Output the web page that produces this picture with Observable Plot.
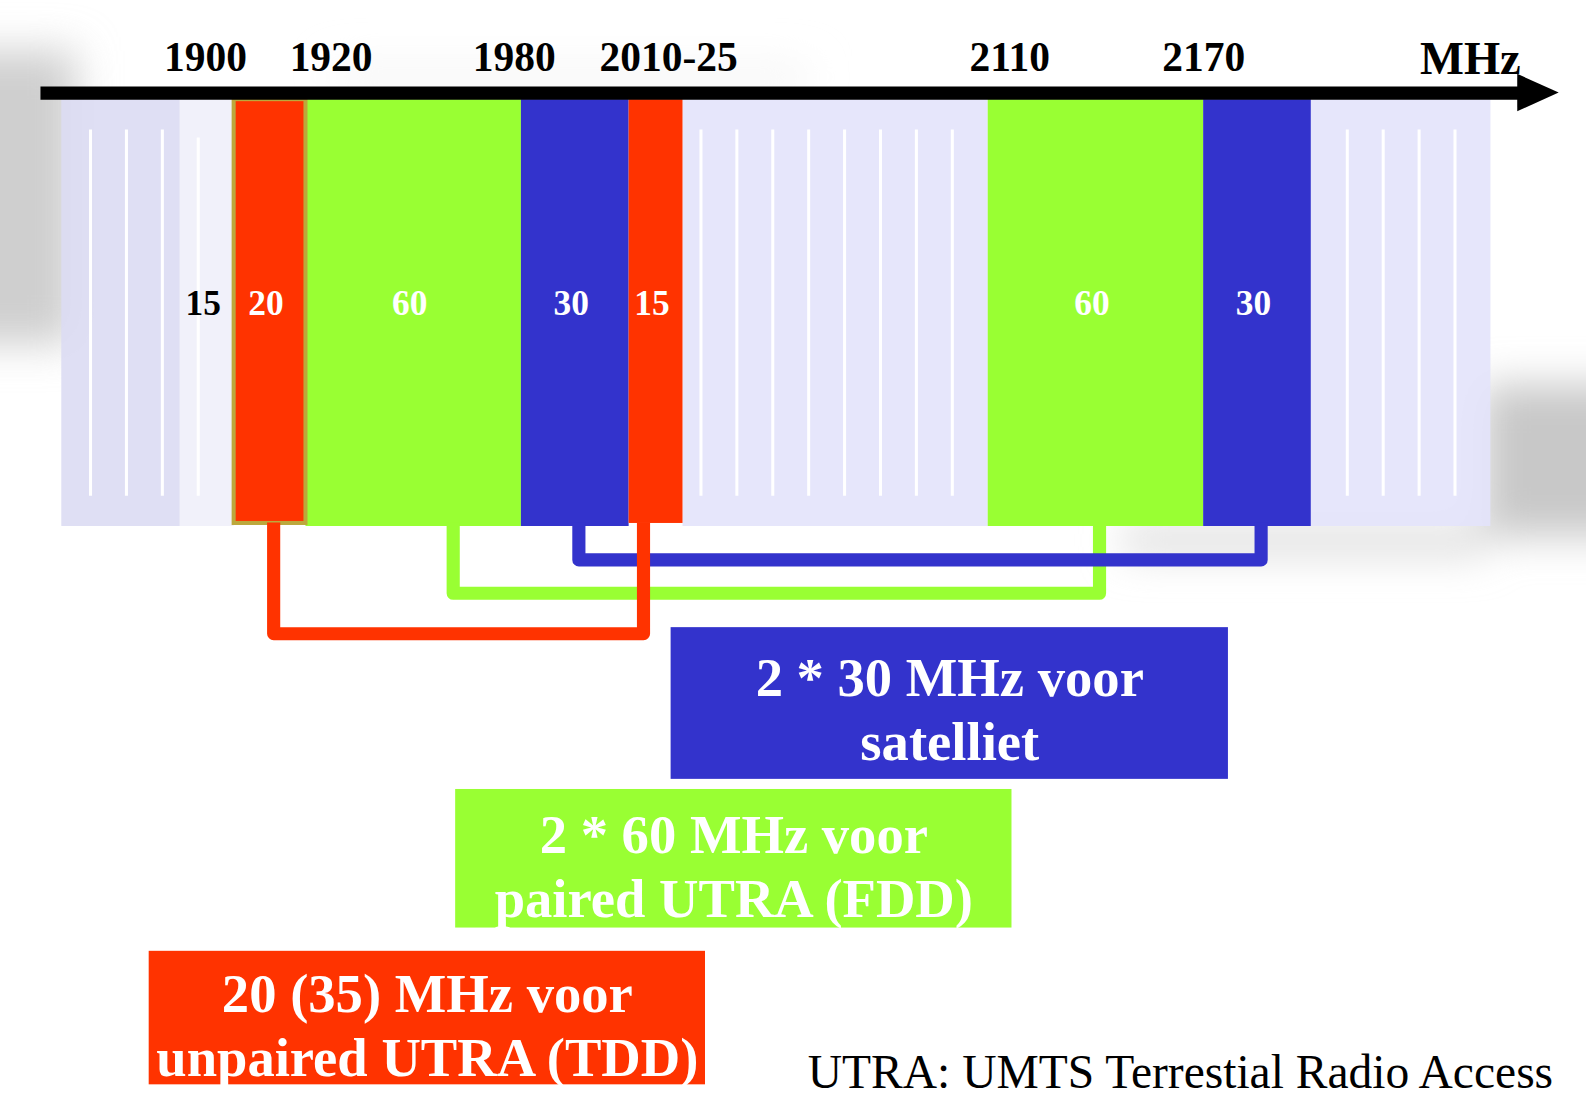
<!DOCTYPE html>
<html><head><meta charset="utf-8">
<script src="https://cdn.jsdelivr.net/npm/d3@7"></script>
<script src="https://cdn.jsdelivr.net/npm/@observablehq/plot@0.6"></script>
<style>html,body{margin:0;padding:0;background:#fff;overflow:hidden}#chart svg{display:block}</style>
</head><body><div id="chart"></div>
<script>
// ---- data (MHz) ----
const bandStart = [1852, 1885, 1900, 1920, 1980, 2010, 2025, 2110, 2170, 2200];
const bandEnd   = [1885, 1900, 1920, 1980, 2010, 2025, 2110, 2170, 2200, 2250];
const bandUse   = ["free","mss","tdd","fdd","sat","tdd","free","fdd","sat","free"];
const bandLabel = ["","15","20","60","30","15","","60","30",""];
const tickLabels = ["1900","1920","1980","2010-25","2110","2170"];
const tickMHz    = [1892, 1927, 1978, 2021, 2116, 2170];
const gridMHz = [1860,1870,1880,1890,2030,2040,2050,2060,2070,2080,2090,2100,2210,2220,2230,2240];
const pairUse  = ["fdd","sat","tdd"];
const pairLow  = [1961, 1996, 1911];
const pairHigh = [2141, 2186, 2014];
const legendUse  = ["sat","fdd","tdd"];
const legendText = ["2 * 30 MHz voor\nsatelliet", "2 * 60 MHz voor\npaired UTRA (FDD)", "20 (35) MHz voor\nunpaired UTRA (TDD)"];
const footnote = "UTRA: UMTS Terrestial Radio Access";
const unitLabel = "MHz";

// ---- layout / style (drawing units; the svg is scaled to the 1586x1106 window) ----
const W = 1568, H = 1093.4;
const pxPerMHz = 3.55, refPx = 231, refMHz = 1900;
const toMHz = px => refMHz + (px - refPx) / pxPerMHz;
const colors = {free: "#e3e3fb", left: "#dcdcf3", mss: "#efeffa", tdd: "#ff3300", fdd: "#99ff33", sat: "#3333cc"};
const serif = "'Liberation Serif', 'Times New Roman', serif";
const bandTop = 98, bandBottom = 520, gridTop = 128, gridBottom = 490;
const pairDepth = {sat: 553, fdd: 586, tdd: 626};
const legendBox = {sat: [663, 1214, 620, 770, 699], fdd: [450, 1000, 780, 917, 854], tdd: [147, 697, 940, 1072, 1011]};

const bands = bandStart.map((s, i) => ({start: s, end: bandEnd[i], use: bandUse[i], label: bandLabel[i], mid: (s + bandEnd[i]) / 2}));
const ticks = tickLabels.map((t, i) => ({label: t, at: tickMHz[i]}));
const pairs = pairUse.map((u, i) => ({use: u, pts: [
  {x: pairLow[i], y: bandBottom - 4}, {x: pairLow[i], y: pairDepth[u]},
  {x: pairHigh[i], y: pairDepth[u]}, {x: pairHigh[i], y: bandBottom - 4}]}));
const legends = legendUse.map((u, i) => ({use: u, text: legendText[i], b: legendBox[u]}));

const ghosts = [
  {x1: -80, x2: 75, y1: 50, y2: 340, f: "#cfcfcf"},
  {x1: 1465, x2: 1660, y1: 380, y2: 530, f: "#c8c8c8"},
  {x1: 1110, x2: 1470, y1: 520, y2: 548, f: "#dadada"},
  {x1: 330, x2: 800, y1: 66, y2: 86, f: "#f3f3f3"}
];

const bandColor = d => d.use === "free" && d.start < 1885 ? colors.left : colors[d.use];

const chart = Plot.plot({
  width: W, height: H, margin: 0,
  x: {type: "linear", domain: [toMHz(0), toMHz(W)], range: [0, W], axis: null},
  y: {type: "linear", domain: [0, H], range: [0, H], axis: null},
  color: {type: "identity"},
  style: {background: "#fff", fontFamily: serif},
  marks: [
    Plot.rect(ghosts, {x1: d => toMHz(d.x1), x2: d => toMHz(d.x2), y1: "y1", y2: "y2", fill: "f"}),
    Plot.rect(bands.filter(d => d.use !== "tdd"), {x1: "start", x2: "end", y1: bandTop, y2: bandBottom, fill: bandColor, fillOpacity: d => d.use === "free" || d.use === "mss" ? 0.9 : 1}),
    Plot.rect(bands.filter(d => d.use === "tdd"), {x1: "start", x2: "end", y1: bandTop, y2: bandBottom - 3, fill: colors.tdd, stroke: d => d.start === 1900 ? "#bca83c" : "none", strokeWidth: 4}),
    Plot.ruleX(gridMHz, {y1: d => d === 1890 ? gridTop + 8 : gridTop, y2: gridBottom, stroke: "#ffffff", strokeWidth: 3}),
    Plot.text(bands.filter(d => d.label), {x: "mid", y: 300, text: "label", fill: d => d.use === "mss" ? "#000" : "#fff", fontSize: 35, fontWeight: "bold", dx: -4}),
    ...["fdd", "sat", "tdd"].map(u => Plot.line(pairs.find(p => p.use === u).pts, {x: "x", y: "y", stroke: colors[u], strokeWidth: 13, strokeLinejoin: "round", strokeLinecap: "butt"})),
    // axis
    Plot.ruleY([91.5], {x1: toMHz(40), x2: toMHz(1505), stroke: "#000", strokeWidth: 13}),
    Plot.areaY([{x: toMHz(1500), a: 73, b: 110}, {x: toMHz(1541), a: 91.5, b: 91.5}], {x: "x", y1: "a", y2: "b", fill: "#000"}),
    Plot.text(ticks, {x: "at", y: 57, text: "label", fontSize: 41, fontWeight: "bold", fill: "#000"}),
    Plot.text([unitLabel], {x: toMHz(1503), y: 58, text: d => d, textAnchor: "end", fontSize: 46, fontWeight: "bold", fill: "#000"}),
    // legend boxes
    Plot.rect(legends, {x1: d => toMHz(d.b[0]), x2: d => toMHz(d.b[1]), y1: d => d.b[2], y2: d => d.b[3], fill: d => colors[d.use]}),
    Plot.text(legends, {x: d => toMHz((d.b[0] + d.b[1]) / 2), y: d => d.b[4], text: "text", fill: "#fff", fontSize: 54, fontWeight: "bold", lineHeight: 1.17, lineAnchor: "middle"}),
    Plot.text([footnote], {x: toMHz(1535), y: 1060, text: d => d, textAnchor: "end", fontSize: 47, fill: "#000"})
  ]
});
document.getElementById("chart").appendChild(chart);

// scale drawing to the window, and soften the background ghost shapes
const svg = d3.select(chart);
svg.attr("width", 1586).attr("height", 1106).attr("viewBox", `0 0 ${W} ${H}`);
const defs = svg.insert("defs", ":first-child");
defs.append("filter").attr("id", "blurGhost").attr("x", "-50%").attr("y", "-50%").attr("width", "200%").attr("height", "200%")
  .append("feGaussianBlur").attr("stdDeviation", 20);
svg.select("g[aria-label='rect']").attr("filter", "url(#blurGhost)");
</script>
</body></html>
